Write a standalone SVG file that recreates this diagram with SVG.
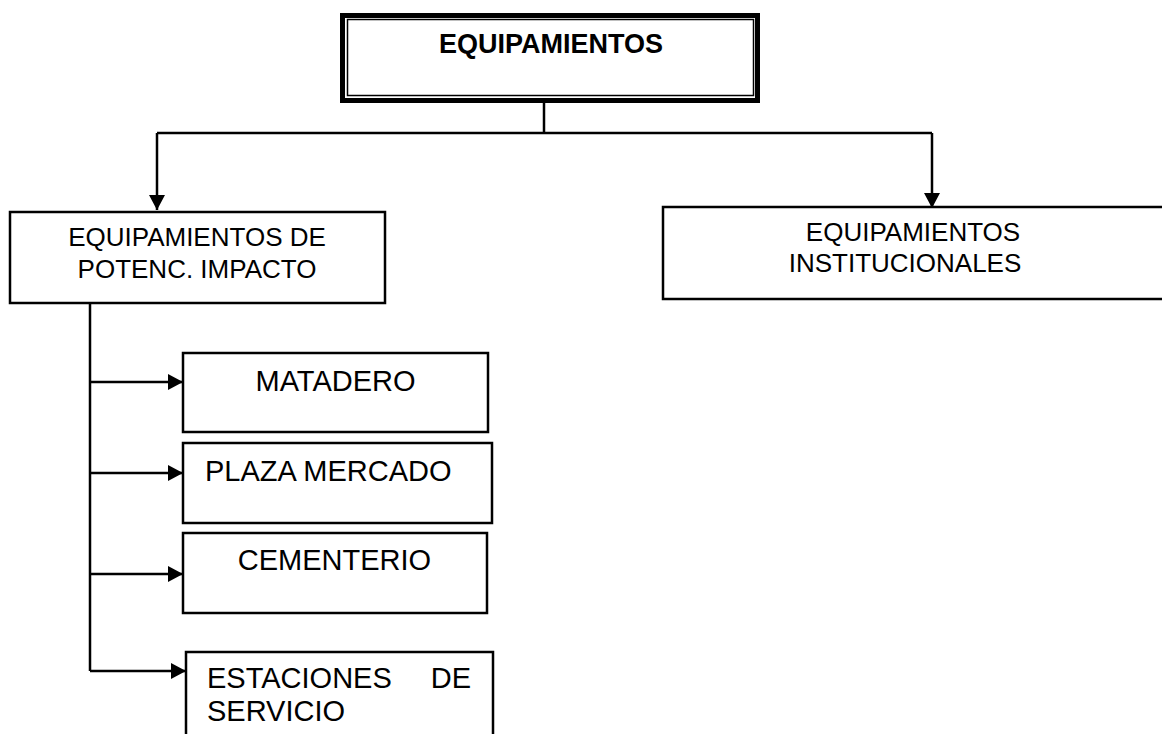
<svg xmlns="http://www.w3.org/2000/svg" width="1162" height="734" viewBox="0 0 1162 734">
<style>
.box{fill:#fff;stroke:#000;stroke-width:2.5}
.t{font-family:"Liberation Sans",Arial,sans-serif;fill:#000}
.m{font-size:26px}
.s{font-size:29px}
.c{text-anchor:middle}
.ln{fill:none;stroke:#000;stroke-width:2.5}
</style>
<defs>
<marker id="ah" viewBox="0 0 15 16" refX="15" refY="8" markerWidth="15" markerHeight="16" markerUnits="userSpaceOnUse" orient="auto">
<path d="M0,0 L15,8 L0,16 Z" fill="#000"/>
</marker>
</defs>
<rect width="1162" height="734" fill="#fff"/>
<g id="connectors">
<path class="ln" d="M544,103 V133"/>
<path class="ln" d="M157,133 H932"/>
<path class="ln" stroke-width="1.8" d="M157,133 V210" marker-end="url(#ah)"/>
<path class="ln" d="M932,133 V208" marker-end="url(#ah)"/>
<path class="ln" d="M90,303 V671"/>
<path class="ln" d="M90,382 H183" marker-end="url(#ah)"/>
<path class="ln" d="M90,473 H183" marker-end="url(#ah)"/>
<path class="ln" d="M90,574 H183" marker-end="url(#ah)"/>
<path class="ln" d="M90,671 H186" marker-end="url(#ah)"/>
</g>
<g id="equipamientos">
<rect x="342.5" y="15.5" width="415" height="85" fill="#fff" stroke="#000" stroke-width="5"/>
<rect x="347.5" y="19.5" width="406" height="76" fill="none" stroke="#000" stroke-width="1.5"/>
<text class="t c" x="551" y="53" font-size="27" font-weight="bold">EQUIPAMIENTOS</text>
</g>
<g id="potenc">
<rect class="box" x="10" y="212" width="375" height="91"/>
<text class="t m c" x="197" y="246">EQUIPAMIENTOS DE</text>
<text class="t m c" x="197" y="278">POTENC. IMPACTO</text>
</g>
<g id="institucionales">
<rect class="box" x="663" y="207" width="510" height="92"/>
<text class="t m c" x="913" y="241">EQUIPAMIENTOS</text>
<text class="t m c" x="905" y="272">INSTITUCIONALES</text>
</g>
<g id="matadero">
<rect class="box" x="183" y="353" width="305" height="79"/>
<text class="t s c" x="335.5" y="391">MATADERO</text>
</g>
<g id="plaza">
<rect class="box" x="183" y="443" width="309" height="80"/>
<text class="t s" x="205" y="481">PLAZA MERCADO</text>
</g>
<g id="cementerio">
<rect class="box" x="183" y="533" width="304" height="80"/>
<text class="t s c" x="334.5" y="570">CEMENTERIO</text>
</g>
<g id="estaciones">
<rect class="box" x="186" y="652" width="307" height="100"/>
<text class="t s" x="207" y="688">ESTACIONES</text>
<text class="t s" x="471" y="688" text-anchor="end">DE</text>
<text class="t s" x="207" y="721">SERVICIO</text>
</g>
</svg>
